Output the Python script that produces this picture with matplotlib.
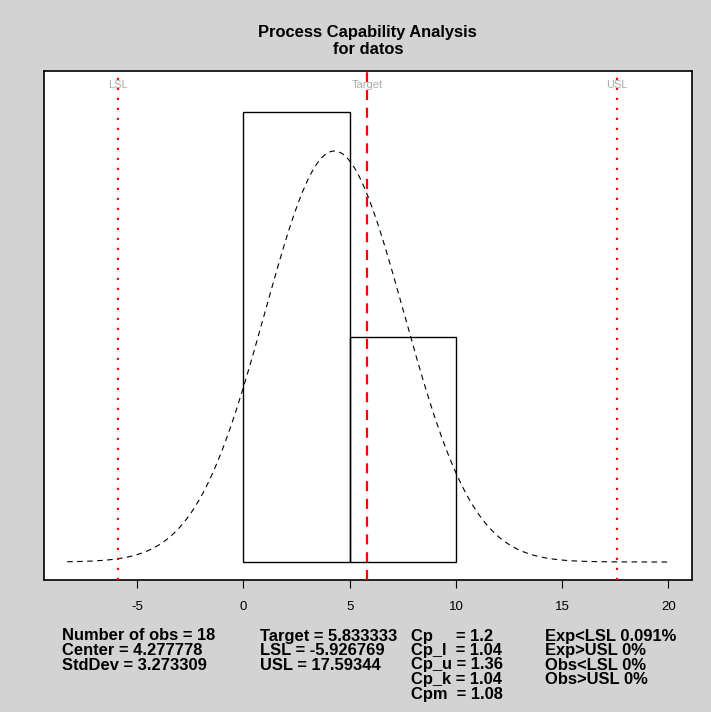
import numpy as np
import matplotlib
matplotlib.use("Agg")
import matplotlib.pyplot as plt

plt.rcParams['font.family'] = ['Liberation Sans', 'DejaVu Sans']
plt.rcParams['axes.unicode_minus'] = False

# histogram of datos
breaks = [0, 5, 10]
counts = [12, 6]
n_obs = 18
center = 4.277778
stddev = 3.273309
target = 5.833333
lsl = -5.926769
usl = 17.59344

stats_col1 = ["Number of obs = 18", "Center = 4.277778", "StdDev = 3.273309"]
stats_col2 = ["Target = 5.833333", "LSL = -5.926769", "USL = 17.59344"]
stats_col3 = ["Cp     = 1.2", "Cp_l  = 1.04", "Cp_u = 1.36", "Cp_k = 1.04", "Cpm  = 1.08"]
stats_col4 = ["Exp<LSL 0.091%", "Exp>USL 0%", "Obs<LSL 0%", "Obs>USL 0%"]

bg = '#d3d3d3'
W, H = 711, 712
fig = plt.figure(figsize=(W / 100, H / 100), dpi=100, facecolor=bg)
ax = fig.add_axes([44 / W, 1 - 580 / H, (691.7 - 44) / W, (580 - 70.7) / H])
ax.set_facecolor('white')

# density-scaled bars
widths = np.diff(breaks)
dens = np.array(counts) / (n_obs * widths)
ax.bar(breaks[:-1], dens, width=widths, align='edge', fill=False,
       edgecolor='black', linewidth=1.0, zorder=2)

# fitted normal curve
xx = np.linspace(-8.3, 20, 300)
yy = np.exp(-0.5 * ((xx - center) / stddev) ** 2) / (stddev * np.sqrt(2 * np.pi))
ax.plot(xx, yy, color='black', linewidth=0.8, dashes=(5, 4), zorder=3)

# spec limits and target
for v in (lsl, usl):
    ax.axvline(v, color='red', linewidth=1.6, dashes=(1, 3.5), zorder=4)
ax.axvline(target, color='red', linewidth=1.6, dashes=(4.5, 3.5), zorder=4)

ax.set_xlim(-9.39, 21.10)
ax.set_ylim(-0.00534, 0.1457)
for v, lab in ((lsl, 'LSL'), (target, 'Target'), (usl, 'USL')):
    ax.text(v, 0.1415, lab, color='#ababab', fontsize=8, ha='center', va='center', zorder=5)

ax.set_yticks([])
ax.set_xticks([-5, 0, 5, 10, 15, 20])
ax.tick_params(axis='x', length=6, width=0.8, pad=9, labelsize=9.5, colors='black')
for s in ax.spines.values():
    s.set_linewidth(1.2)

cx = (44 + 691.7) / 2 / W
fig.text(cx, 1 - 33 / H, "Process Capability Analysis", ha='center', va='center',
         fontsize=11.9, fontweight='bold')
fig.text(cx, 1 - 49 / H, "for datos", ha='center', va='center',
         fontsize=11.9, fontweight='bold')

# summary block under the axis
line_y = [636, 650.5, 665, 679.5, 694]
for xpix, col in ((62, stats_col1), (260, stats_col2), (411, stats_col3), (545, stats_col4)):
    for i, s in enumerate(col):
        fig.text(xpix / W, 1 - line_y[i] / H, s, ha='left', va='center',
                 fontsize=11.9, fontweight='bold')

fig.savefig("out.png", dpi=100, facecolor=bg)
